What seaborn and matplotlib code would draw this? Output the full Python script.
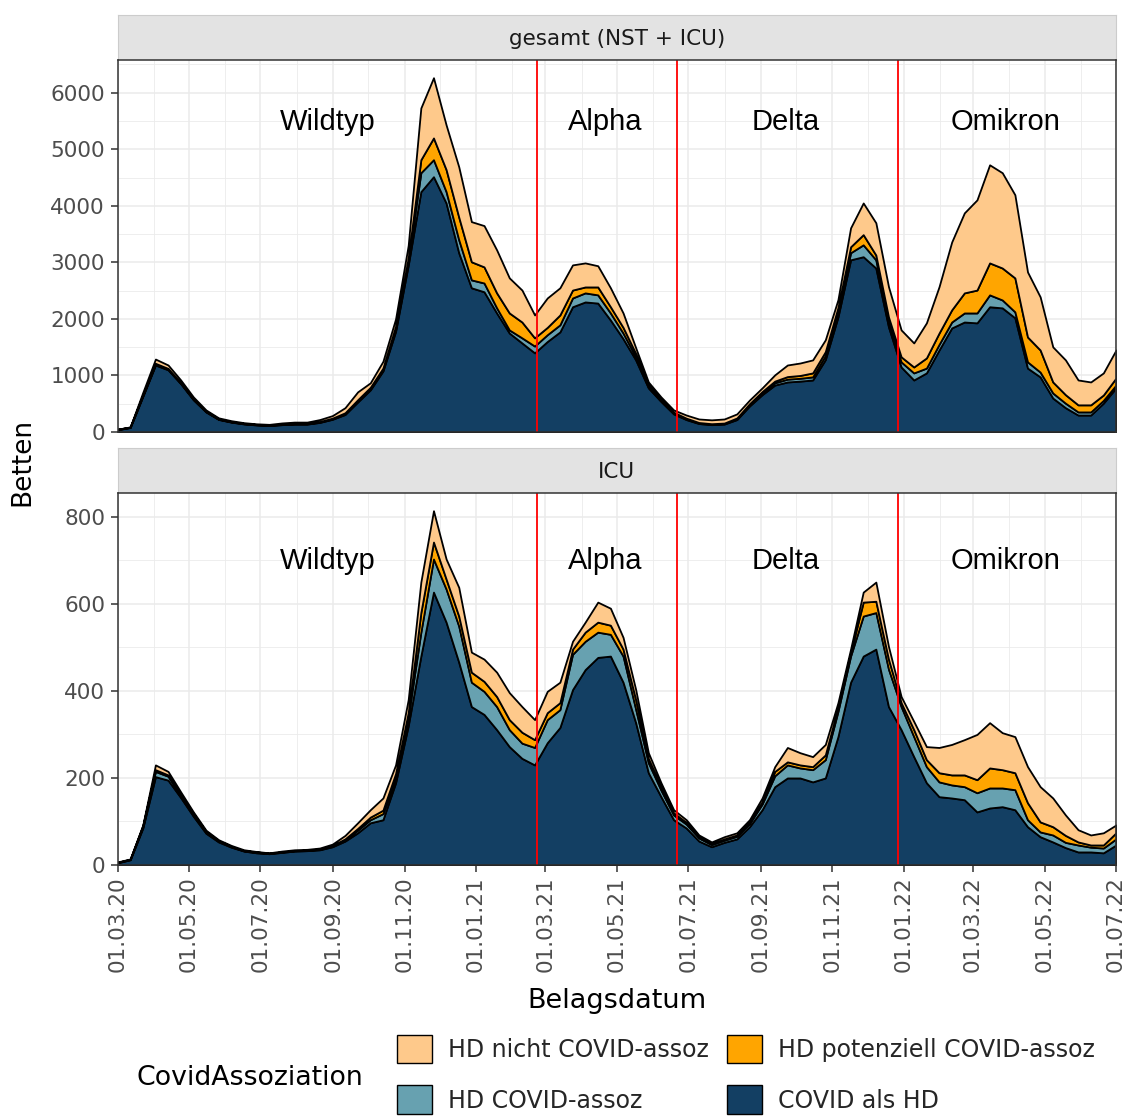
import numpy as np
import pandas as pd
import matplotlib
matplotlib.use('Agg')
import matplotlib.pyplot as plt
import matplotlib.dates as mdates
from matplotlib.patches import Patch
import seaborn as sns

sns.set_theme(style='whitegrid')
plt.rcParams['font.family'] = ['DejaVu Sans']

# Belagsdatum: 80 Stuetzstellen zwischen 01.03.20 und 01.07.22
dates = pd.date_range('2020-03-01', '2022-07-01', periods=80)

# gesamt (NST + ICU), Betten je Kategorie
ges_covid_hd = [40, 80, 630, 1185, 1100, 855, 570, 355, 222, 175, 143, 125, 115, 130, 140, 140,
                170, 225, 310, 530, 745, 1080, 1780, 2950, 4250, 4515, 4050, 3170, 2550, 2480,
                2105, 1750, 1575, 1400, 1600, 1770, 2215, 2300, 2280, 1980, 1650, 1275, 780, 540,
                320, 220, 150, 130, 140, 220, 460, 660, 830, 885, 900, 920, 1280, 2035, 3045, 3100,
                2900, 1860, 1150, 920, 1045, 1450, 1840, 1945, 1930, 2215, 2195, 2020, 1130, 975,
                600, 430, 300, 300, 510, 780]
ges_hd_assoz = [5, 4, 15, 15, 15, 10, 10, 7, 6, 5, 5, 5, 5, 5, 6, 6, 8, 10, 15, 20, 25, 30, 50, 80,
                335, 300, 200, 230, 140, 155, 90, 55, 90, 120, 120, 125, 155, 160, 145, 125, 100, 55,
                30, 20, 15, 12, 10, 10, 10, 15, 20, 30, 40, 50, 50, 55, 70, 85, 125, 210, 145, 90, 90,
                125, 85, 100, 105, 160, 175, 210, 140, 105, 110, 85, 90, 80, 55, 55, 50, 50]
ges_hd_pot = [3, 3, 10, 15, 10, 7, 8, 6, 5, 4, 4, 3, 3, 5, 4, 5, 8, 10, 15, 20, 20, 20, 40, 50, 230,
              385, 390, 400, 320, 285, 265, 300, 280, 145, 130, 175, 140, 105, 140, 110, 100, 60, 30,
              20, 15, 13, 8, 7, 8, 13, 20, 25, 30, 45, 50, 70, 70, 80, 105, 180, 85, 85, 90, 105, 180,
              200, 215, 355, 405, 565, 565, 600, 440, 390, 195, 150, 125, 125, 95, 125]
ges_hd_nicht = [2, 3, 45, 75, 60, 48, 32, 22, 17, 16, 13, 12, 12, 20, 25, 24, 34, 45, 90, 140, 80,
                120, 130, 220, 915, 1065, 790, 890, 710, 730, 760, 620, 565, 405, 520, 480, 445, 425,
                375, 335, 255, 100, 45, 40, 40, 55, 62, 68, 72, 72, 65, 65, 110, 205, 220, 230, 210,
                140, 335, 560, 570, 535, 475, 425, 620, 820, 1200, 1415, 1595, 1735, 1685, 1470, 1150,
                940, 620, 615, 440, 405, 390, 495]

# ICU, Betten je Kategorie
icu_covid_hd = [5, 12, 85, 203, 195, 155, 112, 73, 53, 41, 32, 28, 26, 29, 32, 33, 35, 42, 55, 74,
                97, 104, 189, 320, 480, 627, 558, 466, 364, 346, 311, 272, 245, 230, 281, 316, 403,
                449, 477, 480, 420, 327, 212, 157, 104, 85, 55, 42, 52, 60, 88, 127, 180, 200, 200,
                191, 200, 295, 420, 480, 496, 364, 311, 249, 189, 157, 154, 150, 122, 131, 134, 127,
                88, 65, 53, 40, 30, 30, 28, 46]
icu_hd_assoz = [1, 1, 3, 12, 9, 5, 4, 3, 2, 2, 1, 1, 1, 1, 1, 1, 1, 2, 3, 6, 7, 14, 11, 20, 55, 76,
                76, 83, 56, 53, 53, 39, 35, 40, 53, 41, 81, 65, 58, 50, 60, 31, 23, 15, 11, 9, 7, 5, 5,
                6, 7, 13, 25, 30, 23, 28, 42, 58, 60, 92, 84, 86, 53, 46, 37, 34, 30, 30, 44, 46, 43,
                46, 16, 11, 16, 12, 16, 11, 11, 14]
icu_hd_pot = [0, 0, 2, 4, 3, 2, 2, 1, 1, 0, 0, 1, 0, 0, 0, 0, 1, 1, 2, 4, 6, 8, 10, 10, 45, 39, 23,
              23, 23, 23, 23, 23, 25, 18, 16, 16, 12, 21, 23, 21, 16, 22, 10, 8, 5, 4, 3, 2, 3, 3, 3,
              5, 10, 7, 7, 7, 11, 9, 8, 32, 26, 23, 9, 16, 16, 21, 23, 27, 30, 46, 42, 39, 39, 23, 19,
              16, 7, 5, 7, 14]
icu_hd_nicht = [1, 1, 2, 11, 8, 6, 4, 3, 2, 2, 2, 1, 1, 2, 2, 2, 2, 3, 8, 13, 17, 28, 20, 30, 70, 72,
                46, 66, 46, 51, 56, 62, 59, 46, 49, 47, 18, 23, 46, 39, 27, 23, 13, 9, 7, 6, 4, 4, 5,
                5, 6, 9, 11, 33, 28, 23, 24, 11, 8, 23, 44, 29, 14, 19, 30, 58, 70, 81, 104, 104, 85,
                83, 83, 81, 66, 47, 28, 23, 28, 18]

kategorien = ['COVID als HD', 'HD COVID-assoz', 'HD potenziell COVID-assoz', 'HD nicht COVID-assoz']
farben = ['#133F63', '#67A1B0', '#FFA500', '#FEC98B']

varianten = ['Wildtyp', 'Alpha', 'Delta', 'Omikron']
varianten_datum = pd.to_datetime(['2020-08-27', '2021-04-21', '2021-09-22', '2022-03-29'])
grenzen = pd.to_datetime(['2021-02-22', '2021-06-21', '2021-12-27'])

facetten = [
    ('gesamt (NST + ICU)', [ges_covid_hd, ges_hd_assoz, ges_hd_pot, ges_hd_nicht], 1000, 5480),
    ('ICU', [icu_covid_hd, icu_hd_assoz, icu_hd_pot, icu_hd_nicht], 200, 698),
]

W, H = 1126, 1117
fig = plt.figure(figsize=(W / 100, H / 100), dpi=100)


def rect(x0, y0, x1, y1):
    return [x0 / W, 1 - y1 / H, (x1 - x0) / W, (y1 - y0) / H]


panel_y = [(60, 432), (493, 865)]
strip_y = [(15, 60), (448, 493)]
x0, x1 = 117.5, 1116

for k, (titel, schichten, schritt, text_y) in enumerate(facetten):
    # Streifen mit Facettentitel
    st = fig.add_axes(rect(x0, strip_y[k][0], x1, strip_y[k][1]))
    st.set_facecolor('#E3E3E3')
    st.grid(False)
    st.set_xticks([])
    st.set_yticks([])
    for s in st.spines.values():
        s.set_color('#CCCCCC')
        s.set_linewidth(0.8)
    st.text(0.5, 0.47, titel, ha='center', va='center', fontsize=15.5, color='#1A1A1A',
            transform=st.transAxes)

    ax = fig.add_axes(rect(x0, panel_y[k][0], x1, panel_y[k][1]))
    ax.set_facecolor('white')
    ax.stackplot(dates, *schichten, colors=farben, edgecolor='black', linewidth=1.3, zorder=2)

    total = np.sum(np.array(schichten), axis=0)
    ax.set_ylim(0, total.max() * 1.05)
    ax.set_xlim(pd.Timestamp('2020-03-01'), pd.Timestamp('2022-07-01'))

    for g in grenzen:
        ax.axvline(g, color='red', linewidth=1.3, zorder=3)
    for name, d in zip(varianten, varianten_datum):
        ax.text(d, text_y, name, ha='center', va='center', fontsize=21,
                family='Liberation Sans', color='black', zorder=4)

    ax.yaxis.set_major_locator(matplotlib.ticker.MultipleLocator(schritt))
    ax.yaxis.set_minor_locator(matplotlib.ticker.MultipleLocator(schritt / 2))
    ax.xaxis.set_major_locator(mdates.MonthLocator(bymonth=[1, 3, 5, 7, 9, 11]))
    ax.xaxis.set_minor_locator(mdates.MonthLocator())
    ax.xaxis.set_major_formatter(mdates.DateFormatter('%d.%m.%y'))

    ax.set_axisbelow(True)
    ax.grid(which='major', color='#EBEBEB', linewidth=1.1)
    ax.grid(which='minor', color='#EBEBEB', linewidth=0.6)
    for s in ax.spines.values():
        s.set_color('#333333')
        s.set_linewidth(1.1)
        s.set_zorder(5)

    ax.tick_params(axis='y', which='major', left=True, length=5, width=1.1, color='#333333',
                   labelsize=15.5, labelcolor='#4D4D4D', pad=4)
    ax.tick_params(which='minor', length=0)
    if k == 0:
        ax.tick_params(axis='x', which='major', bottom=False, labelbottom=False)
    else:
        ax.tick_params(axis='x', which='major', bottom=True, length=5, width=1.1, color='#333333',
                       labelsize=15.5, labelcolor='#4D4D4D', pad=3, labelrotation=90)
    ax.set_xlabel('')
    ax.set_ylabel('')

fig.text(617 / W, 1 - 1001 / H, 'Belagsdatum', ha='center', va='center', fontsize=19.5, color='black')
fig.text(22 / W, 1 - 462 / H, 'Betten', ha='center', va='center', rotation=90, fontsize=19,
         color='black')

# Legende
handles = [Patch(facecolor=farben[i], edgecolor='black', linewidth=1.0) for i in [3, 1, 2, 0]]
labels = [kategorien[i] for i in [3, 1, 2, 0]]
fig.legend(handles, labels, loc='upper left', bbox_to_anchor=(397 / W, 1 - 1035 / H), ncol=2,
           frameon=False, fontsize=17, handlelength=1.48, handleheight=1.48, handletextpad=0.68,
           columnspacing=0.76, labelspacing=0.93, borderpad=0, borderaxespad=0)
fig.text(136 / W, 1 - 1078 / H, 'CovidAssoziation', ha='left', va='center', fontsize=19.3,
         color='black')

fig.savefig('out.png', dpi=100)
